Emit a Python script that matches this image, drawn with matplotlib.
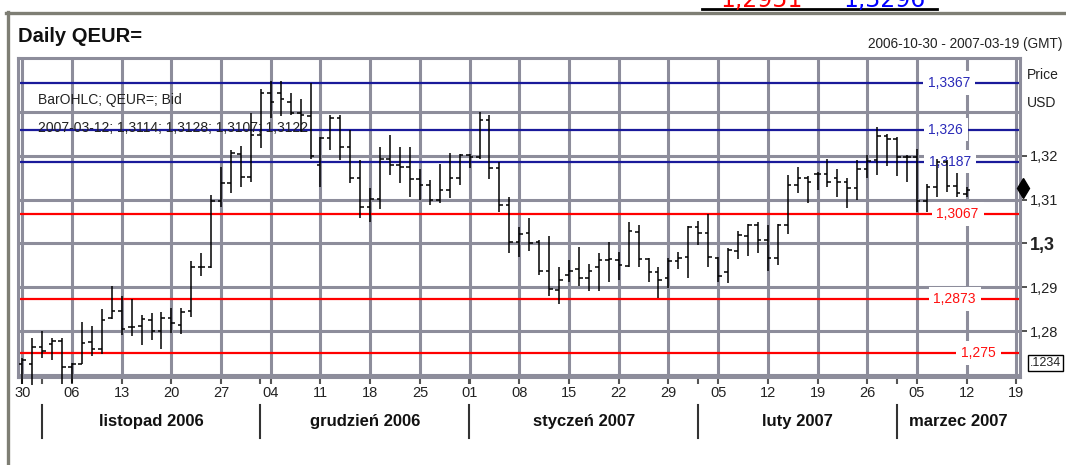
import matplotlib
matplotlib.use("Agg")
import matplotlib.pyplot as plt
import matplotlib.transforms as mtransforms
from matplotlib.lines import Line2D
import numpy as np
import pandas as pd

FONT = ["Liberation Sans Narrow", "Liberation Sans", "DejaVu Sans"]
plt.rcParams["font.family"] = FONT

# ---------------- data ----------------
start_date = "2006-10-30"
last_date = "2007-03-12"
axis_end_date = "2007-03-19"

opens = [1.2725, 1.2725, 1.2764, 1.2770, 1.2778, 1.2717, 1.2725, 1.2776, 1.2758, 1.2829,
         1.2847, 1.2810, 1.2812, 1.2825, 1.2801, 1.2829, 1.2814, 1.2847, 1.2946, 1.2946,
         1.3096, 1.3137, 1.3204, 1.3151, 1.3248, 1.3343, 1.3343, 1.3322, 1.3297, 1.3291,
         1.3179, 1.3240, 1.3286, 1.3220, 1.3149, 1.3084, 1.3101, 1.3194, 1.3179, 1.3174,
         1.3147, 1.3134, 1.3099, 1.3122, 1.3149, 1.3201, 1.3198, 1.3282, 1.3172, 1.3088,
         1.3004, 1.3023, 1.3004, 1.2938, 1.2894, 1.2928, 1.2941, 1.2921, 1.2946, 1.2962,
         1.2962, 1.2949, 1.3027, 1.2964, 1.2935, 1.2921, 1.2959, 1.2970, 1.3038, 1.3025,
         1.2968, 1.2934, 1.2984, 1.3017, 1.3042, 1.3008, 1.2966, 1.3042, 1.3134, 1.3149,
         1.3159, 1.3159, 1.3149, 1.3141, 1.3126, 1.3169, 1.3191, 1.3245, 1.3238, 1.3198,
         1.3197, 1.3096, 1.3128, 1.3187, 1.3131, 1.3114]
highs = [1.2738, 1.2784, 1.2800, 1.2784, 1.2784, 1.2728, 1.2821, 1.2812, 1.2850, 1.2903,
         1.2879, 1.2873, 1.2837, 1.2842, 1.2844, 1.2852, 1.2852, 1.2959, 1.2979, 1.3111,
         1.3175, 1.3214, 1.3223, 1.3297, 1.3352, 1.3372, 1.3370, 1.3344, 1.3331, 1.3367,
         1.3244, 1.3293, 1.3293, 1.3259, 1.3191, 1.3126, 1.3220, 1.3248, 1.3220, 1.3220,
         1.3169, 1.3145, 1.3182, 1.3206, 1.3204, 1.3204, 1.3301, 1.3293, 1.3187, 1.3107,
         1.3038, 1.3058, 1.3007, 1.3016, 1.2946, 1.2962, 1.2991, 1.2953, 1.2979, 1.3003,
         1.2981, 1.3048, 1.3042, 1.2968, 1.2947, 1.2968, 1.2981, 1.3041, 1.3052, 1.3067,
         1.2970, 1.2989, 1.3029, 1.3045, 1.3048, 1.3042, 1.3045, 1.3156, 1.3174, 1.3153,
         1.3164, 1.3194, 1.3169, 1.3149, 1.3191, 1.3202, 1.3265, 1.3250, 1.3244, 1.3202,
         1.3215, 1.3136, 1.3192, 1.3190, 1.3160, 1.3128]
lows = [1.2680, 1.2678, 1.2738, 1.2734, 1.2680, 1.2682, 1.2725, 1.2743, 1.2748, 1.2827,
        1.2791, 1.2789, 1.2768, 1.2780, 1.2758, 1.2795, 1.2793, 1.2833, 1.2926, 1.2943,
        1.3084, 1.3115, 1.3130, 1.3141, 1.3217, 1.3286, 1.3290, 1.3293, 1.3255, 1.3194,
        1.3130, 1.3214, 1.3191, 1.3137, 1.3058, 1.3050, 1.3078, 1.3156, 1.3137, 1.3107,
        1.3099, 1.3088, 1.3092, 1.3103, 1.3134, 1.3172, 1.3194, 1.3147, 1.3073, 1.2979,
        1.2970, 1.2984, 1.2928, 1.2879, 1.2863, 1.2911, 1.2903, 1.2892, 1.2892, 1.2913,
        1.2917, 1.2947, 1.2946, 1.2913, 1.2875, 1.2898, 1.2941, 1.2921, 1.2997, 1.2946,
        1.2913, 1.2909, 1.2964, 1.2972, 1.2979, 1.2938, 1.2951, 1.3022, 1.3116, 1.3092,
        1.3121, 1.3128, 1.3107, 1.3080, 1.3099, 1.3149, 1.3156, 1.3177, 1.3153, 1.3141,
        1.3073, 1.3073, 1.3107, 1.3118, 1.3107, 1.3107]
closes = [1.2734, 1.2764, 1.2755, 1.2778, 1.2717, 1.2725, 1.2772, 1.2758, 1.2825, 1.2847,
          1.2804, 1.2810, 1.2827, 1.2801, 1.2829, 1.2818, 1.2844, 1.2947, 1.2947, 1.3096,
          1.3137, 1.3206, 1.3151, 1.3248, 1.3343, 1.3324, 1.3329, 1.3297, 1.3293, 1.3200,
          1.3240, 1.3286, 1.3220, 1.3149, 1.3084, 1.3101, 1.3194, 1.3179, 1.3174, 1.3147,
          1.3134, 1.3099, 1.3122, 1.3149, 1.3201, 1.3198, 1.3282, 1.3172, 1.3088, 1.3004,
          1.3022, 1.3002, 1.2938, 1.2895, 1.2917, 1.2938, 1.2921, 1.2938, 1.2962, 1.2964,
          1.2951, 1.3029, 1.2964, 1.2935, 1.2917, 1.2959, 1.2966, 1.3038, 1.3025, 1.2970,
          1.2926, 1.2985, 1.3019, 1.3042, 1.3008, 1.2966, 1.3042, 1.3134, 1.3149, 1.3141,
          1.3159, 1.3141, 1.3141, 1.3126, 1.3169, 1.3189, 1.3245, 1.3238, 1.3198, 1.3197,
          1.3096, 1.3128, 1.3187, 1.3131, 1.3116, 1.3122]

level_values = [1.3367, 1.326, 1.3187, 1.3067, 1.2873, 1.275]
level_labels = ["1,3367", "1,326", "1,3187", "1,3067", "1,2873", "1,275"]
level_colors = ["#1a1a9a", "#1a1a9a", "#1a1a9a", "#ff0000", "#ff0000", "#ff0000"]
level_text_colors = ["#2a2ab8", "#2a2ab8", "#2a2ab8", "#ff1010", "#ff1010", "#ff1010"]
level_label_x = [93.2, 92.9, 93.3, 94.1, 93.8, 96.2]

ytick_values = [1.28, 1.29, 1.30, 1.31, 1.32]
ytick_labels = ["1,28", "1,29", "1,3", "1,31", "1,32"]
ygrid_values = [1.27, 1.28, 1.29, 1.30, 1.31, 1.32, 1.33]

month_names = ["listopad 2006", "grudzień 2006", "styczeń 2007", "luty 2007", "marzec 2007"]
xtick_labels = ["30", "06", "13", "20", "27", "04", "11", "18", "25", "01", "08",
                "15", "22", "29", "05", "12", "19", "26", "05", "12", "19"]

top_values = ["1,2951", "1,3296"]

# ---------------- layout helpers ----------------
W, H = 1066, 465
fig = plt.figure(figsize=(W / 100, H / 100), dpi=100)
fig.patch.set_facecolor("white")


def fx(px):
    return px / W


def fy(py):
    return 1 - py / H


ax_left, ax_right, ax_top, ax_bottom = 18, 1020, 58, 377
ax = fig.add_axes([fx(ax_left), fy(ax_bottom), fx(ax_right - ax_left), (ax_bottom - ax_top) / H])

days = pd.bdate_range(start_date, axis_end_date)
x_all = np.arange(len(days))
n = len(opens)
x = x_all[:n]

XMIN, XMAX = -0.43, 100.37
YMIN, YMAX = 1.26952, 1.34235
ax.set_xlim(XMIN, XMAX)
ax.set_ylim(YMIN, YMAX)

GRID = "#8d8d9b"
for s in ax.spines.values():
    s.set_color(GRID)
    s.set_linewidth(2.2)

mondays = [i for i, d in enumerate(days) if d.weekday() == 0]
for m in mondays:
    ax.axvline(m, color=GRID, lw=2.2, zorder=1)
for g in ygrid_values:
    ax.axhline(g, color=GRID, lw=2.2, zorder=1)

# level lines with labels
for val, lab, col, tcol, lx in zip(level_values, level_labels, level_colors,
                                   level_text_colors, level_label_x):
    ax.axhline(val, color=col, lw=1.6, zorder=2)
    ax.text(lx, val, lab, color=tcol, fontsize=10, ha="center", va="center", zorder=3,
            bbox=dict(facecolor="white", edgecolor="none", pad=3.5))

# OHLC bars
tw = 0.36
ax.vlines(x, lows, highs, color="black", lw=1.1, zorder=5, clip_on=False)
ax.hlines(opens, x - tw, x, color="black", lw=1.1, zorder=5, clip_on=False)
ax.hlines(closes, x, x + tw, color="black", lw=1.1, zorder=5, clip_on=False)

# x ticks
ax.set_xticks(mondays)
ax.set_xticklabels(xtick_labels, fontsize=10.5, color="#222222")
month_firsts = [i for i in range(1, len(days)) if days[i].month != days[i - 1].month]
ax.set_xticks([m - 0.05 for m in month_firsts], minor=True)
ax.tick_params(axis="x", which="both", direction="out", length=5, width=1.5,
               color="#555555", pad=1.5)

# y ticks on right
ax.yaxis.tick_right()
ax.set_yticks(ytick_values)
ax.set_yticklabels(ytick_labels, fontsize=10.5, color="#222222")
ax.tick_params(axis="y", direction="out", length=5, width=1.2, color="#333333", pad=2)
for t in ax.get_yticklabels():
    if t.get_text() == "1,3":
        t.set_fontweight("bold")
        t.set_fontsize(13)

# month separators and labels
trans = mtransforms.blended_transform_factory(ax.transData, fig.transFigure)
bounds = month_firsts + [XMAX]
for b in month_firsts:
    ax.add_line(Line2D([b - 0.05, b - 0.05], [fy(405), fy(438)], transform=trans,
                       color="#333333", lw=1.5, clip_on=False))
for k, name in enumerate(month_names):
    cx = (bounds[k] + bounds[k + 1]) / 2
    ax.text(cx, fy(421), name, transform=trans, ha="center", va="center",
            fontsize=12, fontweight="bold", color="#111111")

# diamond marker at last close on right axis
ax.plot([100.67], [closes[-1] + 0.0005], marker="d", ms=10, color="black",
        clip_on=False, zorder=6)

# annotation texts
tleft = mtransforms.blended_transform_factory(ax.transAxes, fig.transFigure)
ax.text(0.02, fy(100), "BarOHLC; QEUR=; Bid", transform=tleft,
        fontsize=10, color="#222222", ha="left", va="center", zorder=4)


def fmt(v):
    return f"{v:.4f}".replace(".", ",")


info = f"{last_date}; {fmt(opens[-1])}; {fmt(highs[-1])}; {fmt(lows[-1])}; {fmt(closes[-1])}"
ax.text(0.02, fy(128), info, transform=tleft,
        fontsize=10, color="#222222", ha="left", va="center", zorder=4)

# header
fig.text(fx(18), fy(37), "Daily QEUR=", fontsize=14.5, fontweight="bold", ha="left", va="center",
         color="#111111")
fig.text(fx(1063), fy(44), f"{start_date} - {axis_end_date} (GMT)", fontsize=9.8,
         ha="right", va="center", color="#222222")
fig.text(fx(1027), fy(75), "Price", fontsize=10, ha="left", va="center", color="#222222")
fig.text(fx(1027), fy(103), "USD", fontsize=10, ha="left", va="center", color="#222222")
fig.text(fx(1030), fy(363), ".1234", fontsize=9, ha="left", va="center", color="#222222",
         bbox=dict(facecolor="white", edgecolor="black", lw=1, pad=1.2))

# partially visible values at the very top
fig.text(fx(720), fy(7), top_values[0], fontsize=17, color="red", ha="left", va="baseline",
         family="DejaVu Sans")
fig.text(fx(843), fy(7), top_values[1], fontsize=17, color="blue", ha="left", va="baseline",
         family="DejaVu Sans")
fig.add_artist(Line2D([fx(702), fx(937)], [fy(9.5), fy(9.5)], color="black", lw=2,
                      transform=fig.transFigure))

# outer frame (top and left)
BORDER = "#7e7e74"
fig.add_artist(Line2D([fx(6), fx(1066)], [fy(13), fy(13)], color=BORDER, lw=2.4,
                      transform=fig.transFigure))
fig.add_artist(Line2D([fx(7.5), fx(7.5)], [fy(12), fy(465)], color=BORDER, lw=2.4,
                      transform=fig.transFigure))

fig.savefig("out.png", dpi=100)
